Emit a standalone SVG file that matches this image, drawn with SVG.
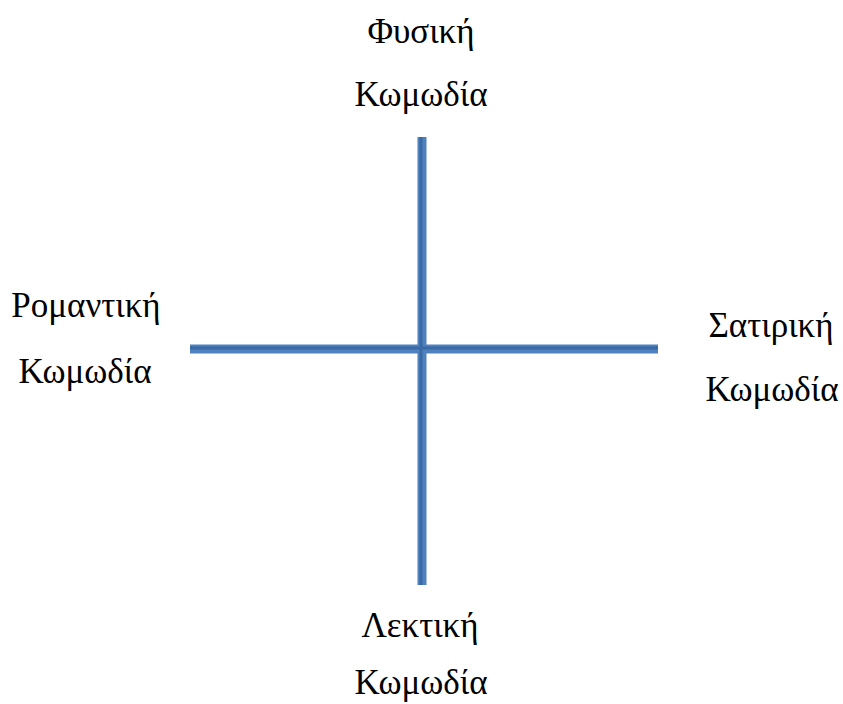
<svg xmlns="http://www.w3.org/2000/svg" width="843" height="704" viewBox="0 0 843 704">
<style>
text{font-family:"Liberation Serif","Times New Roman",serif;font-size:35px;fill:#000;text-anchor:middle}
.ax{stroke:#4f81bd;stroke-width:9;fill:none}
.axc{stroke:#3a6aa5;stroke-width:3;fill:none}
</style>
<rect width="843" height="704" fill="#fff"/>
<g id="connectors">
<line class="ax" x1="422" y1="137" x2="422" y2="585"/>
<line class="ax" x1="190" y1="349" x2="658" y2="349"/>
<line class="axc" x1="421" y1="137" x2="421" y2="585"/>
<line class="axc" x1="190" y1="348" x2="658" y2="348"/>
</g>
<g id="top"><text x="421" y="43">Φυσική</text><text x="421" y="106">Κωμωδία</text></g>
<g id="left"><text x="86" y="317">Ρομαντική</text><text x="85" y="383">Κωμωδία</text></g>
<g id="right"><text x="771" y="337">Σατιρική</text><text x="772" y="401">Κωμωδία</text></g>
<g id="bottom"><text x="420" y="637">Λεκτική</text><text x="421" y="694">Κωμωδία</text></g>
</svg>
